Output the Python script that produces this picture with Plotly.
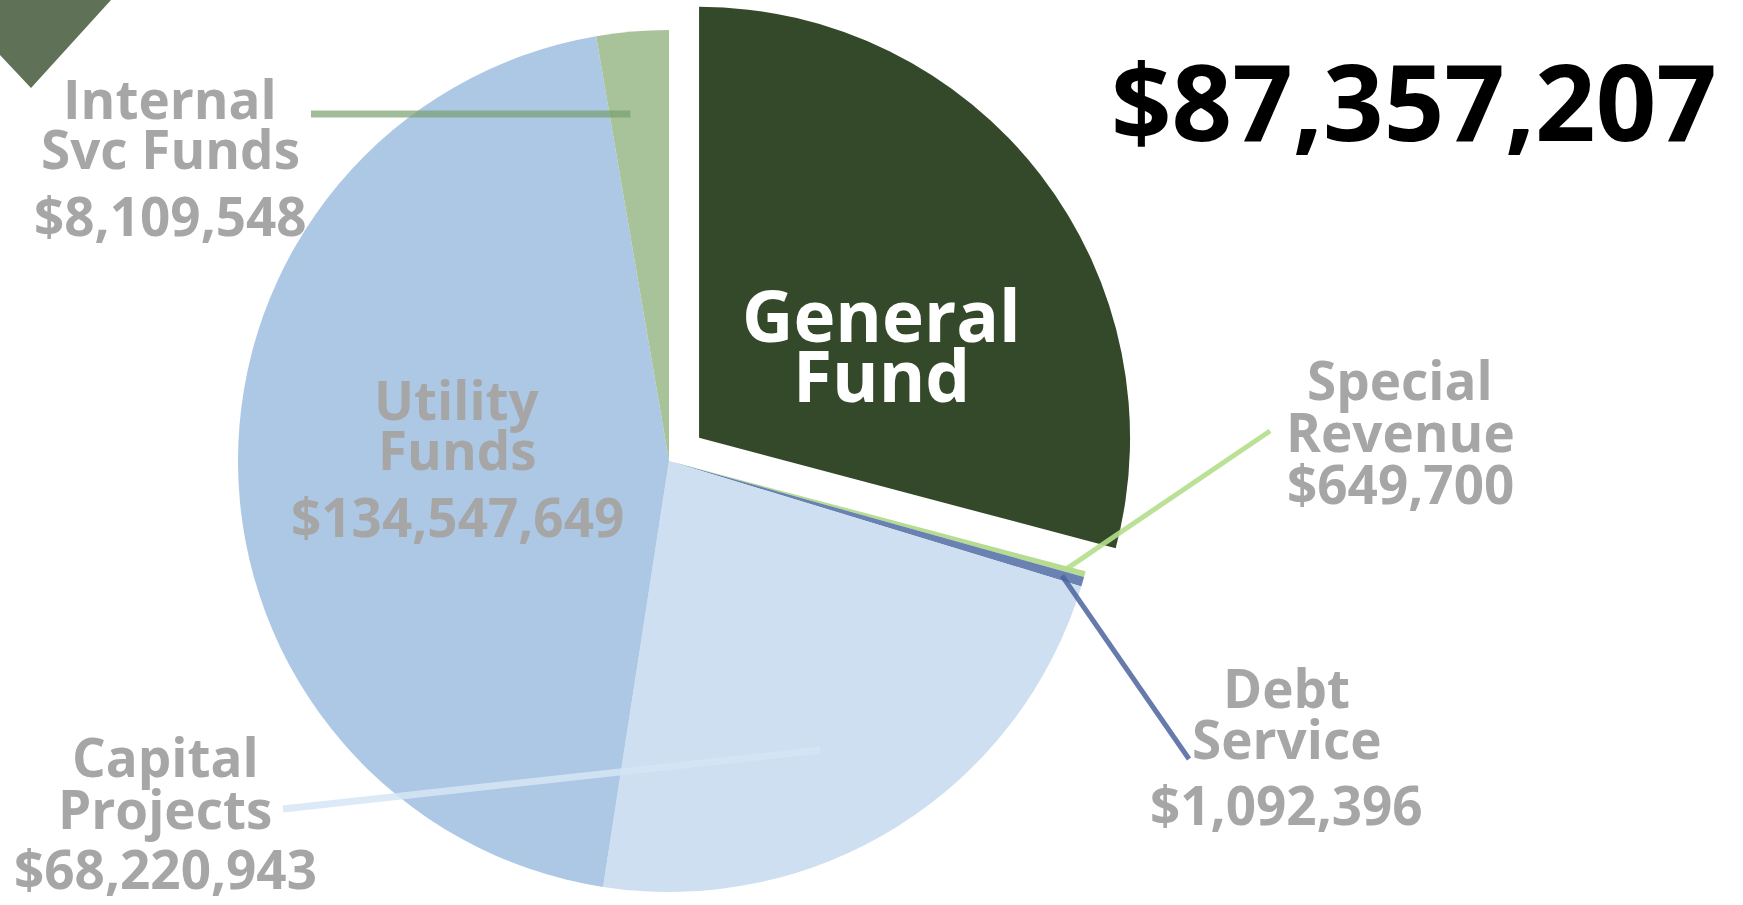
import math
import plotly.graph_objects as go

# ---------------- data ----------------
categories = ["General Fund", "Special Revenue", "Debt Service",
              "Capital Projects", "Utility Funds", "Internal Svc Funds"]
label_lines = [["General", "Fund"], ["Special", "Revenue"], ["Debt", "Service"],
               ["Capital", "Projects"], ["Utility", "Funds"], ["Internal", "Svc Funds"]]
values = [87357207, 649700, 1092396, 68220943, 134547649, 8109548]
colors = ["#34482a", "#b6dc90", "#6a82b2", "#cddff1", "#adc8e5", "#a8c29a"]

# ---------------- layout constants ----------------
W, H = 1743, 905
CX, CY, R = 669, 461, 431          # pie centre / radius in px
PULL = 0.088                        # pull of the first slice (fraction of R)
GRAY = "#a6a6a6"
FONT = "Open Sans"


def px_x(x):
    return x / W


def px_y(y):
    return 1 - y / H


total = sum(values)
mid_angles = []
acc = 0
for v in values:
    mid_angles.append(360 * (acc + v / 2) / total)
    acc += v


def slice_point(i, frac, dang=0.0):
    a = math.radians(mid_angles[i] + dang)
    return CX + frac * R * math.sin(a), CY - frac * R * math.cos(a)


# pulled centre for General Fund
a0 = math.radians(mid_angles[0])
PCX = CX + PULL * R * math.sin(a0)
PCY = CY - PULL * R * math.cos(a0)


def domain(cx, cy):
    return dict(x=[px_x(cx - R), px_x(cx + R)],
                y=[px_y(cy + R), px_y(cy - R)])


base_colors = ["rgba(0,0,0,0)"] + colors[1:]
gf_colors = [colors[0]] + ["rgba(0,0,0,0)"] * (len(values) - 1)

fig = go.Figure()
fig.add_trace(go.Pie(labels=categories, values=values, sort=False,
                     direction="clockwise", rotation=0,
                     marker=dict(colors=base_colors, line=dict(width=0)),
                     textinfo="none", hoverinfo="label+value",
                     domain=domain(CX, CY), showlegend=False))
fig.add_trace(go.Pie(labels=categories, values=values, sort=False,
                     direction="clockwise", rotation=0,
                     marker=dict(colors=gf_colors, line=dict(width=0)),
                     textinfo="none", hoverinfo="label+value",
                     domain=domain(PCX, PCY), showlegend=False))

# ---------------- leader lines ----------------
shapes = []
# (slice index, fraction of radius for start, angle offset, end px, colour, width)
leaders = [
    (5, 0.81, -1.5, None, "rgba(120,160,110,0.7)", 7),
    (1, 0.955, 0.0, (1270, 431), "rgba(180,222,140,0.9)", 5),
    (2, 0.95, 0.0, (1189, 759), "rgba(75,100,158,0.85)", 5),
    (3, 0.757, 4.5, (283, 809), "rgba(214,229,245,0.85)", 7),
]
for idx, frac, dang, end, col, wd in leaders:
    sx, sy = slice_point(idx, frac, dang)
    if end is None:
        end = (311, sy)
    shapes.append(dict(type="line", xref="paper", yref="paper",
                       x0=px_x(sx), y0=px_y(sy), x1=px_x(end[0]), y1=px_y(end[1]),
                       line=dict(color=col, width=wd)))

# decorative triangle top-left
shapes.append(dict(type="path", xref="paper", yref="paper",
                   path=f"M {px_x(0)},{px_y(0)} L {px_x(111)},{px_y(0)} "
                        f"L {px_x(31)},{px_y(88)} L {px_x(0)},{px_y(55)} Z",
                   fillcolor="#5f7156", line=dict(width=0)))

# ---------------- labels ----------------
annotations = []


def add_text(text, cx, baseline, size, color):
    centre = baseline - 0.388 * size
    annotations.append(dict(text=text, x=px_x(cx), y=px_y(centre),
                            xref="paper", yref="paper", xanchor="center",
                            yanchor="middle", showarrow=False,
                            font=dict(family=FONT, size=size, color=color, weight=700)))


# label centre x, baselines (px) for name lines and value line
label_pos = {
    1: (1400, [400, 452], 504),
    2: (1286, [708, 759], 825),
    3: (165, [777, 829], 889),
    4: (457, [420, 470], 537),
    5: (170, [119, 169], 236),
}
for i, (lx, bls, vb) in label_pos.items():
    for line, bl in zip(label_lines[i], bls):
        add_text(line, lx, bl, 53, GRAY)
    add_text(f"${values[i]:,}", lx, vb, 53, GRAY)

# General Fund inside label
for line, bl in zip(label_lines[0], [342, 402]):
    add_text(line, 882, bl, 71, "white")

# headline figure
add_text(f"${values[0]:,}", 1414, 141, 106, "black")

fig.update_layout(width=W, height=H, margin=dict(l=0, r=0, t=0, b=0),
                  paper_bgcolor="white", plot_bgcolor="white",
                  shapes=shapes, annotations=annotations, showlegend=False)

fig.write_html("out.html", config={"displayModeBar": False},
               post_script="document.body.style.margin='0';"
                           "document.body.style.overflow='hidden';")
